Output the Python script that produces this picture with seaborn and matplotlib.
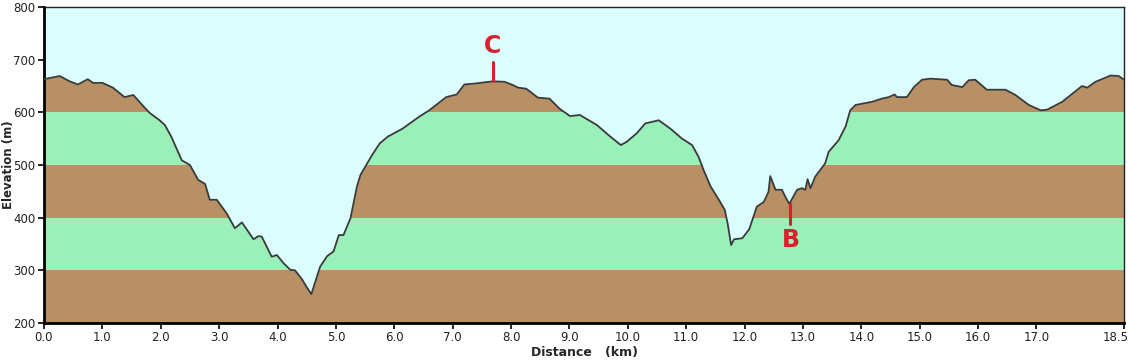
import numpy as np
import pandas as pd
import matplotlib
matplotlib.use("Agg")
import matplotlib.pyplot as plt
import matplotlib.transforms as mtransforms
import seaborn as sns

distance_km = [0.00, 0.27, 0.44, 0.58, 0.75, 0.84, 1.00, 1.18, 1.38, 1.53, 1.70, 1.81, 1.98, 2.07,
               2.18, 2.36, 2.50, 2.64, 2.76, 2.84, 2.96, 3.13, 3.27, 3.39, 3.59, 3.67, 3.73, 3.90,
               3.99, 4.10, 4.22, 4.30, 4.42, 4.50, 4.58, 4.73, 4.85, 4.96, 5.05, 5.13, 5.25, 5.36,
               5.42, 5.53, 5.62, 5.75, 5.89, 6.14, 6.43, 6.60, 6.89, 7.07, 7.20, 7.40, 7.69, 7.89,
               8.03, 8.12, 8.26, 8.46, 8.66, 8.83, 9.01, 9.18, 9.47, 9.70, 9.88, 9.98, 10.15, 10.30,
               10.53, 10.73, 10.93, 11.10, 11.21, 11.30, 11.42, 11.56, 11.66, 11.71, 11.77, 11.82,
               11.96, 12.08, 12.21, 12.33, 12.41, 12.44, 12.53, 12.64, 12.71, 12.77, 12.81, 12.90,
               12.98, 13.04, 13.08, 13.13, 13.21, 13.38, 13.44, 13.61, 13.73, 13.81, 13.90, 14.18,
               14.35, 14.47, 14.57, 14.61, 14.78, 14.90, 15.04, 15.18, 15.47, 15.55, 15.73, 15.84,
               15.95, 16.15, 16.47, 16.64, 16.87, 17.07, 17.18, 17.44, 17.78, 17.87, 18.01, 18.27,
               18.41, 18.50]
elevation_m = [663, 669, 659, 653, 663, 656, 656, 647, 629, 633, 612, 599, 585, 576,
               554, 509, 500, 472, 464, 434, 434, 408, 380, 391, 359, 365, 364, 326,
               329, 314, 301, 300, 283, 268, 255, 307, 327, 336, 367, 367, 399, 459,
               481, 502, 519, 541, 554, 569, 592, 604, 629, 634, 653, 655, 659, 658,
               652, 647, 645, 628, 626, 607, 593, 595, 576, 554, 538, 544, 560, 579,
               585, 569, 550, 538, 516, 490, 459, 434, 415, 389, 348, 359,
               361, 378, 421, 430, 449, 479, 453, 453, 437, 426, 435, 453,
               456, 453, 473, 456, 478, 503, 525, 547, 573, 604, 614, 620,
               626, 629, 634, 629, 629, 648, 662, 664, 662, 652, 648, 661,
               662, 643, 643, 633, 614, 604, 605, 620, 650, 647, 658, 670,
               669, 662]

# Waypoint markers
marker_labels = ["C", "B"]
marker_km = [7.69, 12.77]

x_ticks = [0.0, 1.0, 2.0, 3.0, 4.0, 5.0, 6.0, 7.0, 8.0, 9.0, 10.0, 11.0, 12.0, 13.0,
           14.0, 15.0, 16.0, 17.0, 18.5]
y_ticks = [200, 300, 400, 500, 600, 700, 800]

df = pd.DataFrame({"Distance": distance_km, "Elevation": elevation_m})

sns.set_style("ticks")
plt.rcParams["font.family"] = ["DejaVu Sans"]

fig = plt.figure(figsize=(11.28, 3.64), dpi=100)
ax = fig.add_axes([0.039, 0.1126, 0.9575, 0.868])

brown = "#b98f64"
green = "#9af0b9"
sky = "#dbfdfd"

# Bands
for i, lo in enumerate(y_ticks[:-1]):
    ax.axhspan(lo, lo + 100, color=brown if i % 2 == 0 else green, lw=0, zorder=0)

x = np.array(distance_km)
y = np.array(elevation_m)
ax.fill_between(x, y, 800, color=sky, lw=0, zorder=1)

sns.lineplot(data=df, x="Distance", y="Elevation", ax=ax, color="#3a3a3a", lw=1.3,
             zorder=3, estimator=None, sort=False)

red = "#d8202a"
for lab, km in zip(marker_labels, marker_km):
    e = float(np.interp(km, x, y))
    if lab == "C":
        ax.plot([km, km], [e, e + 37], color=red, lw=2.2, zorder=4)
        ax.text(km, e + 67, lab, color=red, fontsize=17, fontweight="bold",
                ha="center", va="center", zorder=5)
    else:
        ax.plot([km, km], [e, e - 38], color=red, lw=2.2, zorder=4)
        ax.text(km + 0.02, e - 68, lab, color=red, fontsize=17, fontweight="bold",
                ha="center", va="center", zorder=5)

ax.set_xlim(0, 18.5)
ax.set_ylim(200, 800)
ax.set_xticks(x_ticks)
ax.set_xticklabels([f"{t:.1f}" for t in x_ticks])
ax.set_yticks(y_ticks)
ax.tick_params(axis="both", labelsize=8.5, length=4, width=1.2, color="black",
               labelcolor="#222222", pad=2)
# shift the last x tick label left so it stays inside the figure
last = ax.get_xticklabels()[-1]
last.set_transform(last.get_transform() +
                   mtransforms.ScaledTranslation(-8 / 100, 0, fig.dpi_scale_trans))

ax.set_xlabel("Distance   (km)", fontsize=9, fontweight="bold", labelpad=1)
ax.set_ylabel("Elevation (m)", fontsize=8.5, fontweight="bold", va="center")
ax.yaxis.set_label_coords(-0.0325, 0.5)

for side in ["left", "bottom"]:
    ax.spines[side].set_linewidth(2)
    ax.spines[side].set_color("black")
for side in ["top", "right"]:
    ax.spines[side].set_visible(True)
    ax.spines[side].set_linewidth(1)
    ax.spines[side].set_color("#222222")

fig.savefig("out.png", dpi=100)
